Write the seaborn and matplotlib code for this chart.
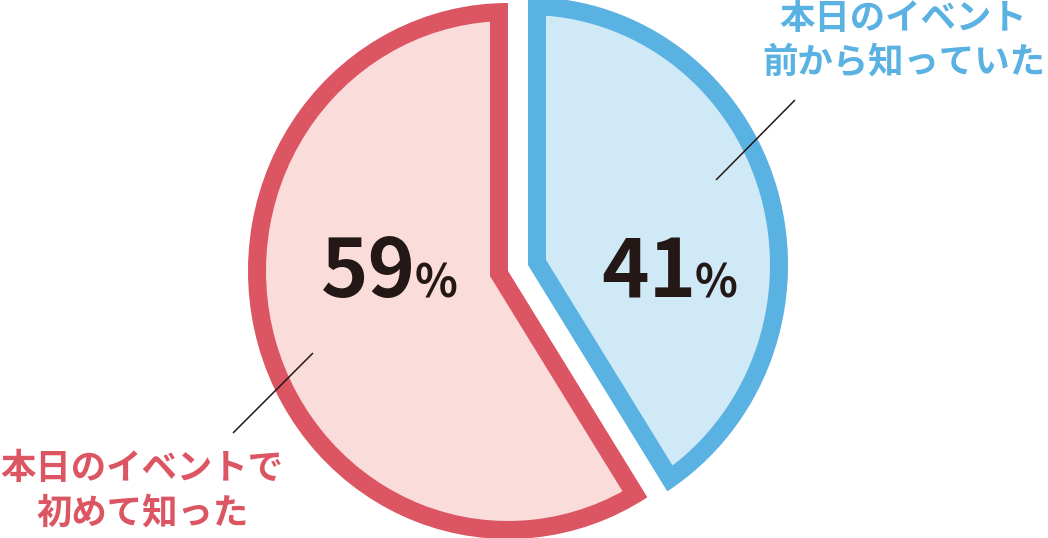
import matplotlib
matplotlib.use("Agg")
import matplotlib.pyplot as plt
import seaborn as sns

# ---- data ----
categories = ["本日のイベント前から知っていた", "本日のイベントで初めて知った"]
values = [41, 59]
label_lines = [["本日のイベント", "前から知っていた"], ["本日のイベントで", "初めて知った"]]
edge_colors = ["#5ab2e3", "#dc5562"]
face_colors = ["#d0e9f7", "#fadcdb"]
text_dark = "#231815"

sns.set_theme(style="white")
plt.rcParams["font.family"] = ["Noto Sans CJK JP", "DejaVu Sans"]

W, H = 1048, 538
fig = plt.figure(figsize=(W / 100, H / 100), dpi=100)
ax = fig.add_axes([0, 0, 1, 1])

# pie centre (pixels) and pixel radii
CX, CY = 518, 268
RH, RV = 260, 268

wedges, _ = ax.pie(
    values,
    startangle=90,
    counterclock=False,
    explode=[0.04, 0.04],
    colors=face_colors,
    radius=1,
    center=(0, 0),
)
for w, ec in zip(wedges, edge_colors):
    w.set_edgecolor(ec)
    w.set_linewidth(36 * 72 / 100)  # 18px visible inner stroke after clipping
    w.set_joinstyle("miter")
    w.set_clip_on(True)
    w.set_clip_path(w)

ax.set_aspect("auto")
ax.set_xlim(-CX / RH, (W - CX) / RH)
ax.set_ylim(-(H - CY) / RV, CY / RV)
ax.axis("off")


def px(x, y):
    return (x - CX) / RH, (CY - y) / RV


# leader lines
for (x0, y0, x1, y1) in [(716, 180, 795, 100), (233, 433, 313, 353)]:
    a = px(x0, y0)
    b = px(x1, y1)
    ax.plot([a[0], b[0]], [a[1], b[1]], color=text_dark, lw=1.1,
            solid_capstyle="butt", zorder=5)

# percentage labels
num_pos = [(601, 297, 695), (321, 297, 415)]
for v, (xn, yb, xp) in zip(values, num_pos):
    fig.text(xn / W, 1 - yb / H, str(v), fontsize=58, fontweight="bold",
             color=text_dark, ha="left", va="baseline")
    fig.text(xp / W, 1 - yb / H, "%", fontsize=32, fontweight="bold",
             color=text_dark, ha="left", va="baseline")

# category labels
lab_pos = [[(903, 19), (904, 62)], [(142, 468), (143, 513)]]
for lines, poss, col in zip(label_lines, lab_pos, edge_colors):
    for t, (x, y) in zip(lines, poss):
        fig.text(x / W, 1 - y / H, t, fontsize=25.5, fontweight="semibold",
                 color=col, ha="center", va="center")

fig.savefig("out.png", dpi=100)
